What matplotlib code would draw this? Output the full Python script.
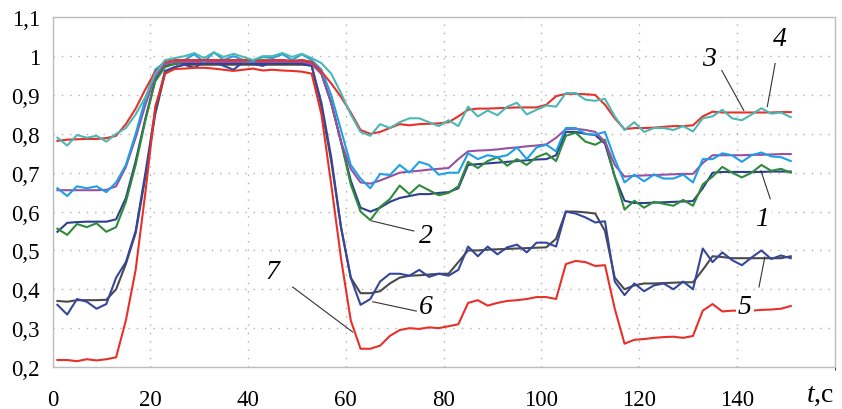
import numpy as np
import matplotlib
matplotlib.use("Agg")
import matplotlib.pyplot as plt
from matplotlib.ticker import FuncFormatter, MultipleLocator

plt.rcParams['font.family'] = ['Liberation Serif', 'DejaVu Serif']
plt.rcParams['mathtext.fontset'] = 'custom'
plt.rcParams['mathtext.it'] = 'Liberation Serif:italic'
plt.rcParams['mathtext.rm'] = 'Liberation Serif'

# sample times, every 2 s
t = np.arange(1, 152, 2)

# curve 3 (red, smooth, top)
c3 = [0.782, 0.785, 0.786, 0.787, 0.787, 0.789, 0.795, 0.825, 0.865, 0.915,
      0.96, 0.985, 0.99, 0.99, 0.99, 0.99, 0.99, 0.99, 0.99, 0.99,
      0.99, 0.988, 0.99, 0.99, 0.988, 0.99, 0.985, 0.96, 0.93, 0.895,
      0.855, 0.81, 0.80, 0.805, 0.815, 0.825, 0.822, 0.825, 0.826, 0.827,
      0.83, 0.845, 0.862, 0.865, 0.865, 0.866, 0.867, 0.868, 0.868, 0.868,
      0.875, 0.897, 0.903, 0.903, 0.902, 0.9, 0.875, 0.84, 0.812, 0.815,
      0.815, 0.816, 0.818, 0.82, 0.82, 0.822, 0.845, 0.857, 0.855, 0.855,
      0.855, 0.855, 0.855, 0.855, 0.856, 0.856]
# curve 4 (teal, noisy, top)
c4 = [0.79, 0.77, 0.797, 0.79, 0.795, 0.78, 0.80, 0.815, 0.85, 0.895,
      0.955, 0.99, 0.995, 1.0, 1.008, 0.995, 1.01, 0.998, 1.006, 0.998,
      0.99, 1.0, 1.0, 1.008, 0.998, 1.006, 0.995, 0.982, 0.955, 0.905,
      0.85, 0.805, 0.795, 0.825, 0.815, 0.83, 0.84, 0.84, 0.83, 0.82,
      0.835, 0.82, 0.87, 0.845, 0.86, 0.848, 0.87, 0.88, 0.85, 0.862,
      0.873, 0.87, 0.905, 0.905, 0.888, 0.885, 0.89, 0.845, 0.81, 0.83,
      0.805, 0.815, 0.815, 0.81, 0.82, 0.806, 0.84, 0.845, 0.862, 0.84,
      0.835, 0.85, 0.866, 0.852, 0.855, 0.843]
# purple, smooth, upper-middle
c_purple = [0.655, 0.655, 0.655, 0.655, 0.655, 0.656, 0.665, 0.715, 0.79, 0.875,
            0.95, 0.98, 0.985, 0.985, 0.985, 0.985, 0.985, 0.985, 0.985, 0.985,
            0.985, 0.985, 0.985, 0.985, 0.985, 0.985, 0.98, 0.955, 0.88, 0.78,
            0.71, 0.675, 0.672, 0.68, 0.69, 0.70, 0.703, 0.705, 0.708, 0.71,
            0.712, 0.735, 0.755, 0.757, 0.758, 0.76, 0.763, 0.765, 0.768, 0.77,
            0.773, 0.79, 0.812, 0.813, 0.81, 0.805, 0.78, 0.72, 0.69, 0.692,
            0.693, 0.694, 0.695, 0.696, 0.697, 0.697, 0.725, 0.745, 0.745, 0.745,
            0.745, 0.746, 0.746, 0.747, 0.748, 0.748]
# light blue, noisy, upper-middle
c_lblue = [0.66, 0.64, 0.665, 0.66, 0.665, 0.65, 0.675, 0.72, 0.80, 0.89,
           0.965, 0.985, 0.99, 0.99, 1.005, 0.985, 1.01, 0.99, 1.0, 0.99,
           0.985, 0.998, 0.995, 1.005, 0.99, 1.005, 0.99, 0.965, 0.9, 0.81,
           0.72, 0.685, 0.66, 0.697, 0.694, 0.72, 0.70, 0.728, 0.72, 0.695,
           0.70, 0.70, 0.75, 0.735, 0.745, 0.74, 0.745, 0.765, 0.735, 0.765,
           0.772, 0.755, 0.815, 0.815, 0.80, 0.798, 0.805, 0.735, 0.675, 0.695,
           0.678, 0.695, 0.685, 0.685, 0.695, 0.675, 0.735, 0.735, 0.75, 0.745,
           0.728, 0.745, 0.752, 0.742, 0.74, 0.73]
# curve 1 (navy, smooth, middle)
c1 = [0.548, 0.571, 0.573, 0.574, 0.574, 0.574, 0.58, 0.635, 0.73, 0.84,
      0.94, 0.975, 0.98, 0.982, 0.982, 0.982, 0.982, 0.982, 0.982, 0.982,
      0.982, 0.982, 0.982, 0.982, 0.982, 0.982, 0.98, 0.955, 0.88, 0.78,
      0.68, 0.61, 0.60, 0.61, 0.625, 0.635, 0.64, 0.645, 0.645, 0.648,
      0.65, 0.66, 0.72, 0.722, 0.724, 0.726, 0.728, 0.73, 0.732, 0.734,
      0.735, 0.745, 0.805, 0.805, 0.80, 0.797, 0.775, 0.69, 0.628, 0.622,
      0.622, 0.623, 0.624, 0.625, 0.626, 0.627, 0.66, 0.70, 0.702, 0.702,
      0.702, 0.702, 0.702, 0.703, 0.703, 0.703]
# curve 2 (green, noisy, middle)
c2 = [0.556, 0.54, 0.568, 0.56, 0.57, 0.548, 0.56, 0.625, 0.72, 0.835,
      0.935, 0.972, 0.98, 0.985, 0.99, 0.985, 0.99, 0.985, 0.99, 0.984,
      0.985, 0.99, 0.988, 0.99, 0.985, 0.99, 0.985, 0.955, 0.88, 0.78,
      0.67, 0.60, 0.578, 0.612, 0.632, 0.667, 0.645, 0.668, 0.655, 0.642,
      0.648, 0.665, 0.728, 0.712, 0.73, 0.74, 0.718, 0.735, 0.72, 0.74,
      0.75, 0.73, 0.795, 0.803, 0.78, 0.772, 0.785, 0.69, 0.605, 0.628,
      0.61, 0.625, 0.62, 0.615, 0.63, 0.615, 0.67, 0.69, 0.715, 0.70,
      0.688, 0.70, 0.72, 0.705, 0.71, 0.70]
# curve 5 (dark grey, smooth, lower)
c5 = [0.37, 0.368, 0.372, 0.372, 0.372, 0.373, 0.40, 0.465, 0.545, 0.69,
      0.85, 0.955, 0.972, 0.978, 0.978, 0.978, 0.978, 0.978, 0.978, 0.978,
      0.978, 0.978, 0.978, 0.978, 0.978, 0.978, 0.976, 0.87, 0.73, 0.56,
      0.43, 0.39, 0.39, 0.395, 0.415, 0.43, 0.435, 0.436, 0.438, 0.44,
      0.44, 0.47, 0.50, 0.50, 0.502, 0.503, 0.504, 0.505, 0.506, 0.507,
      0.508, 0.53, 0.60, 0.60, 0.598, 0.595, 0.55, 0.43, 0.40, 0.41,
      0.415, 0.415, 0.416, 0.417, 0.418, 0.418, 0.45, 0.485, 0.483, 0.48,
      0.48, 0.48, 0.48, 0.48, 0.48, 0.485]
# curve 6 (blue, noisy, lower)
c6 = [0.36, 0.335, 0.375, 0.368, 0.35, 0.362, 0.43, 0.47, 0.55, 0.70,
      0.86, 0.962, 0.972, 0.978, 0.97, 0.985, 0.985, 0.975, 0.965, 0.985,
      0.98, 0.975, 0.985, 0.98, 0.985, 0.98, 0.975, 0.88, 0.74, 0.56,
      0.43, 0.36, 0.375, 0.42, 0.44, 0.44, 0.435, 0.45, 0.432, 0.44,
      0.435, 0.45, 0.51, 0.485, 0.51, 0.49, 0.508, 0.515, 0.495, 0.52,
      0.52, 0.51, 0.60, 0.595, 0.585, 0.572, 0.575, 0.42, 0.385, 0.415,
      0.395, 0.41, 0.415, 0.40, 0.42, 0.40, 0.505, 0.47, 0.495, 0.475,
      0.462, 0.482, 0.50, 0.478, 0.487, 0.48]
# curve 7 (red, bottom)
c7 = [0.218, 0.218, 0.215, 0.22, 0.217, 0.22, 0.225, 0.32, 0.45, 0.65,
      0.87, 0.955, 0.967, 0.968, 0.97, 0.97, 0.968, 0.965, 0.962, 0.965,
      0.968, 0.963, 0.965, 0.963, 0.962, 0.96, 0.955, 0.85, 0.67, 0.48,
      0.32, 0.247, 0.247, 0.255, 0.28, 0.295, 0.30, 0.298, 0.302, 0.30,
      0.305, 0.31, 0.365, 0.372, 0.358, 0.365, 0.37, 0.372, 0.375, 0.38,
      0.38, 0.375, 0.465, 0.473, 0.47, 0.46, 0.462, 0.35, 0.26, 0.27,
      0.272, 0.275, 0.277, 0.278, 0.275, 0.28, 0.345, 0.362, 0.343, 0.345,
      0.345, 0.345, 0.347, 0.348, 0.35, 0.357]

series = [
    (c5, '#4a4a4a'),
    (c6, '#34479c'),
    (c7, '#e8302a'),
    (c1, '#2f3f90'),
    (c2, '#2e8b3a'),
    (c_purple, '#9a50a0'),
    (c_lblue, '#1e9fe6'),
    (c3, '#e8302a'),
    (c4, '#4cb8b4'),
]
for ys, _ in series:
    assert len(ys) == len(t)

x_ticks = [0, 20, 40, 60, 80, 100, 120, 140]

fig = plt.figure(figsize=(8.42, 4.10), dpi=100)
ax = fig.add_axes([0.0624, 0.1024, 0.929, 0.853])

for ys, col in series:
    ax.plot(t, ys, color=col, lw=1.5, solid_joinstyle='round')

ax.set_xlim(0, 160)
ax.set_ylim(0.2, 1.1)
ax.set_xticks(x_ticks)
ax.yaxis.set_major_locator(MultipleLocator(0.1))


def comma(v, pos):
    if abs(v - 1) < 1e-6:
        return '1'
    return ('%.1f' % v).replace('.', ',')


ax.yaxis.set_major_formatter(FuncFormatter(comma))
ax.tick_params(length=0, labelsize=16.5)
ax.tick_params(axis='x', pad=16)
ax.tick_params(axis='y', pad=9)

ax.xaxis.set_minor_locator(MultipleLocator(20))
ax.grid(True, which='both', linestyle=(0, (1, 5)), color='#b0b0b0', lw=1.0)
for s in ax.spines.values():
    s.set_color('#bdbdbd')
    s.set_linewidth(1.0)

ax.text(157, 0.13, r'$t$,c', fontsize=20, ha='center', va='center',
        clip_on=False)

# curve labels with leader lines
labels = [
    ('3', 134.2, 0.994, [136.9, 141.4], [0.963, 0.86], None),
    ('4', 148.8, 1.045, [147.8, 146.2], [0.981, 0.87], None),
    ('2', 76.4, 0.538, [65.3, 73.9], [0.576, 0.55], None),
    ('1', 145.1, 0.581, [144.9, 146.8], [0.705, 0.633], 'white'),
    ('6', 76.4, 0.357, [65.5, 74.4], [0.368, 0.344], None),
    ('7', 45.0, 0.447, [49.1, 61.4], [0.406, 0.29], 'white'),
    ('5', 141.6, 0.357, [144.5, 145.7], [0.406, 0.483], 'white'),
]
for txt, tx, ty, lx, ly, bg in labels:
    ax.plot(lx, ly, color='#333333', lw=0.8, zorder=5)
    kw = {}
    if bg:
        kw['bbox'] = dict(facecolor=bg, edgecolor='none', pad=1.5)
    ax.text(tx, ty, txt, fontsize=20, style='italic', ha='center',
            va='center', zorder=6, **kw)

fig.savefig('out.png', dpi=100)
